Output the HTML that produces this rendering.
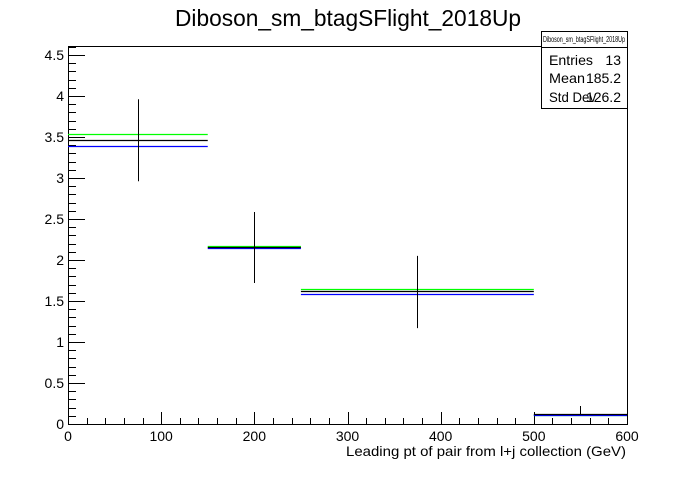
<!DOCTYPE html>
<html><head><meta charset="utf-8"><style>
body{margin:0;background:#fff}
svg text{font-family:"Liberation Sans",Arial,sans-serif}
</style></head><body>
<svg id="c" width="696" height="472" xmlns="http://www.w3.org/2000/svg">
<rect width="696" height="472" fill="#fff"/>
<text x="175" y="26" font-size="23" textLength="346" lengthAdjust="spacingAndGlyphs">Diboson_sm_btagSFlight_2018Up</text>
<g id="plot"></g>
<g>
<rect x="541.5" y="31.5" width="86" height="77" fill="#fff" stroke="#000"/>
<line x1="541.5" y1="47.5" x2="627.5" y2="47.5" stroke="#000"/>
<text x="543" y="42" font-size="8" textLength="82" lengthAdjust="spacingAndGlyphs">Diboson_sm_btagSFlight_2018Up</text>
<text x="549" y="65" font-size="14" textLength="44" lengthAdjust="spacingAndGlyphs">Entries</text><text x="621" y="65" font-size="14" text-anchor="end">13</text>
<text x="549" y="83" font-size="14" textLength="36" lengthAdjust="spacingAndGlyphs">Mean</text><text x="621" y="83" font-size="14" text-anchor="end">185.2</text>
<text x="549" y="102" font-size="14" textLength="47" lengthAdjust="spacingAndGlyphs">Std Dev</text><text x="621" y="102" font-size="14" text-anchor="end">126.2</text>
</g>
<text x="346" y="456" font-size="14" textLength="280" lengthAdjust="spacingAndGlyphs">Leading pt of pair from l+j collection (GeV)</text>
</svg>
<script>
const binEdges=[0,150,250,500,600];
const dataVals=[3.46,2.16,1.618,0.118];
const errLow=[2.96,1.72,1.17,0.118];
const errHigh=[3.96,2.585,2.05,0.22];
const greenVals=[3.533,2.17,1.643,0.11];
const blueVals=[3.39,2.146,1.582,0.105];
const xTicks=[0,100,200,300,400,500,600];
const yTicks=[0,0.5,1,1.5,2,2.5,3,3.5,4,4.5];
const X0=68,X1=627,Y0=424,Y1=46,XMAX=600,YMAX=4.61;
const sx=v=>X0+(X1-X0)*v/XMAX, sy=v=>Y0-(Y0-Y1)*v/YMAX;
const g=document.getElementById('plot'),NS='http://www.w3.org/2000/svg';
function mk(t,a){const e=document.createElementNS(NS,t);for(const k in a)e.setAttribute(k,a[k]);g.appendChild(e);return e;}
const fr=mk('rect',{x:X0+.5,y:Y1+.5,width:X1-X0,height:Y0-Y1,fill:'none',stroke:'#000'});


for(let v=0;v<=XMAX+0.01;v+=20){const maj=Math.abs(v%100)<0.01;const x=Math.round(sx(v))+.5;
const t=mk('line',{x1:x,x2:x,y1:Y0,y2:Y0-(maj?12:6),stroke:'#000'});

}
xTicks.forEach(v=>{const t=mk('text',{x:sx(v),y:Y0+17,'font-size':14,'text-anchor':'middle'});t.textContent=v;

});
for(let i=0;i<=46;i++){const v=i/10;const maj=i%5==0;const y=Math.round(sy(v))+.5;
const t=mk('line',{x1:X0,x2:X0+(maj?17:8),y1:y,y2:y,stroke:'#000'});

}
yTicks.forEach(v=>{const t=mk('text',{x:X0-4,y:sy(v)+5,'font-size':14,'text-anchor':'end'});t.textContent=v;

});
function hl(vals,col,name){vals.forEach((v,i)=>{const y=Math.round(sy(v))+.5;
const l=mk('line',{x1:sx(binEdges[i]),x2:sx(binEdges[i+1]),y1:y,y2:y,stroke:col,'stroke-width':1.2});

});}
hl(greenVals,'#00ff00','green-series-bin');
hl(blueVals,'#0000ff','blue-series-bin');
hl(dataVals,'#000','data-bin');
dataVals.forEach((v,i)=>{const x=Math.round(sx((binEdges[i]+binEdges[i+1])/2))+.5;
const l=mk('line',{x1:x,x2:x,y1:sy(errHigh[i]),y2:sy(errLow[i]),stroke:'#000'});

});
</script>
</body></html>
